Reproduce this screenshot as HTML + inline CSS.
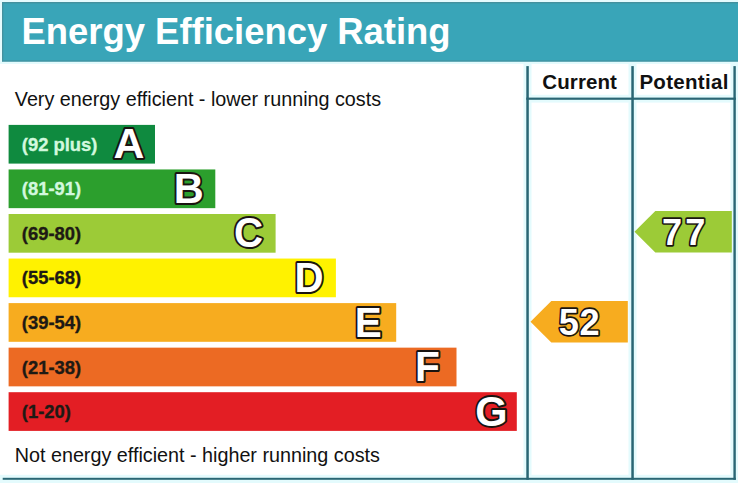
<!DOCTYPE html><html><head><meta charset="utf-8"><style>*{margin:0;padding:0}html,body{width:738px;height:483px;overflow:hidden;background:#fff}svg{display:block;font-family:"Liberation Sans",sans-serif}</style></head><body>
<svg width="738" height="483" viewBox="0 0 738 483">
<rect width="738" height="483" fill="#fff"/>
<rect x="2" y="2" width="740" height="59.8" fill="#39a5b8"/>
<rect x="2" y="2" width="740" height="1.4" fill="#43919e"/>
<rect x="2" y="60.4" width="740" height="1.4" fill="#43919e"/>
<rect x="2" y="2" width="1.3" height="59.8" fill="#43919e"/>
<text x="21.5" y="44.1" font-size="36.43" font-weight="bold" fill="#fff">Energy Efficiency Rating</text>
<text x="14.8" y="105.5" font-size="19.75" fill="#111">Very energy efficient - lower running costs</text>
<text x="14.7" y="461.8" font-size="19.75" fill="#111">Not energy efficient - higher running costs</text>
<rect x="8.6" y="124.9" width="146.4" height="38.7" fill="#0f8a3f"/>
<text x="21.8" y="150.8" font-size="18.4" font-weight="bold" fill="#d2f8de" stroke="#d2f8de" stroke-width="0.35">(92 plus)</text>
<text transform="translate(113.49,158.30) scale(0.986,1)" font-size="43.4" font-weight="bold" fill="#fff" stroke="#1a1410" stroke-width="4.0" stroke-linejoin="round" paint-order="stroke">A</text>
<rect x="8.6" y="169.45" width="206.7" height="38.7" fill="#2c9f2d"/>
<text x="21.8" y="195.3" font-size="18.4" font-weight="bold" fill="#d2f8de" stroke="#d2f8de" stroke-width="0.35">(81-91)</text>
<text transform="translate(173.84,202.85) scale(0.957,1)" font-size="43.4" font-weight="bold" fill="#fff" stroke="#1a1410" stroke-width="4.0" stroke-linejoin="round" paint-order="stroke">B</text>
<rect x="8.6" y="214.0" width="267.0" height="38.7" fill="#9ccb37"/>
<text x="21.8" y="239.9" font-size="18.4" font-weight="bold" fill="#1e1a14" stroke="#1e1a14" stroke-width="0.35">(69-80)</text>
<text transform="translate(234.08,247.40) scale(0.927,1)" font-size="43.4" font-weight="bold" fill="#fff" stroke="#1a1410" stroke-width="4.0" stroke-linejoin="round" paint-order="stroke">C</text>
<rect x="8.6" y="258.54999999999995" width="327.3" height="38.7" fill="#fff200"/>
<text x="21.8" y="284.4" font-size="18.4" font-weight="bold" fill="#1e1a14" stroke="#1e1a14" stroke-width="0.35">(55-68)</text>
<text transform="translate(294.47,291.95) scale(0.927,1)" font-size="43.4" font-weight="bold" fill="#fff" stroke="#1a1410" stroke-width="4.0" stroke-linejoin="round" paint-order="stroke">D</text>
<rect x="8.6" y="303.1" width="387.6" height="38.7" fill="#f7ac1f"/>
<text x="21.8" y="329.0" font-size="18.4" font-weight="bold" fill="#1e1a14" stroke="#1e1a14" stroke-width="0.35">(39-54)</text>
<text transform="translate(354.76,336.50) scale(0.932,1)" font-size="43.4" font-weight="bold" fill="#fff" stroke="#1a1410" stroke-width="4.0" stroke-linejoin="round" paint-order="stroke">E</text>
<rect x="8.6" y="347.65" width="447.9" height="38.7" fill="#ec6a23"/>
<text x="21.8" y="373.5" font-size="18.4" font-weight="bold" fill="#1e1a14" stroke="#1e1a14" stroke-width="0.35">(21-38)</text>
<text transform="translate(415.06,381.05) scale(0.937,1)" font-size="43.4" font-weight="bold" fill="#fff" stroke="#1a1410" stroke-width="4.0" stroke-linejoin="round" paint-order="stroke">F</text>
<rect x="8.6" y="392.19999999999993" width="508.2" height="38.7" fill="#e31e24"/>
<text x="21.8" y="418.1" font-size="18.4" font-weight="bold" fill="#1e1a14" stroke="#1e1a14" stroke-width="0.35">(1-20)</text>
<text transform="translate(475.29,425.60) scale(0.957,1)" font-size="43.4" font-weight="bold" fill="#fff" stroke="#1a1410" stroke-width="4.0" stroke-linejoin="round" paint-order="stroke">G</text>
<rect x="0" y="0" width="738" height="2" fill="#e4fbfd"/>
<rect x="0" y="0" width="2" height="64" fill="#e4fbfd"/>
<rect x="0" y="61.8" width="738" height="2.2" fill="#e4fbfd"/>
<rect x="523.5" y="63.5" width="8" height="420" fill="#e4fbfd"/>
<rect x="628.5" y="63.5" width="8" height="420" fill="#e4fbfd"/>
<rect x="730.5" y="63.5" width="8" height="420" fill="#e4fbfd"/>
<rect x="523.5" y="94.8" width="215" height="7.8" fill="#e4fbfd"/>
<rect x="0" y="474.8" width="738" height="9" fill="#e4fbfd"/>
<rect x="526.3" y="66.1" width="2.5" height="413.7" fill="#2a6674"/>
<rect x="631.3" y="66.1" width="2.5" height="413.7" fill="#2a6674"/>
<rect x="733.4" y="66.1" width="2.4" height="413.7" fill="#2a6674"/>
<rect x="526.3" y="97.6" width="209.5" height="2.2" fill="#2a6674"/>
<rect x="2.7" y="477.8" width="733.1" height="2" fill="#2a6674"/>
<text x="542.3" y="89.0" font-size="20.5" font-weight="bold" fill="#111" letter-spacing="0.1">Current</text>
<text x="639.4" y="88.9" font-size="20.5" font-weight="bold" fill="#111" letter-spacing="0.3">Potential</text>
<polygon points="530.5,321.8 551.3,301.0 627.8,301.0 627.8,342.6 551.3,342.6" fill="#f7ac1f"/><text x="579.4" y="334.9" font-size="36.2" font-weight="bold" fill="#fff" stroke="#1a1410" stroke-width="3.3" stroke-linejoin="round" paint-order="stroke" text-anchor="middle" letter-spacing="0.6">52</text>
<polygon points="634.5,231.8 655.3,211.0 731.8,211.0 731.8,252.60000000000002 655.3,252.60000000000002" fill="#9ccb37"/><text x="685.2" y="244.9" font-size="36.2" font-weight="bold" fill="#fff" stroke="#1a1410" stroke-width="3.3" stroke-linejoin="round" paint-order="stroke" text-anchor="middle" letter-spacing="3.0">77</text>
</svg></body></html>
